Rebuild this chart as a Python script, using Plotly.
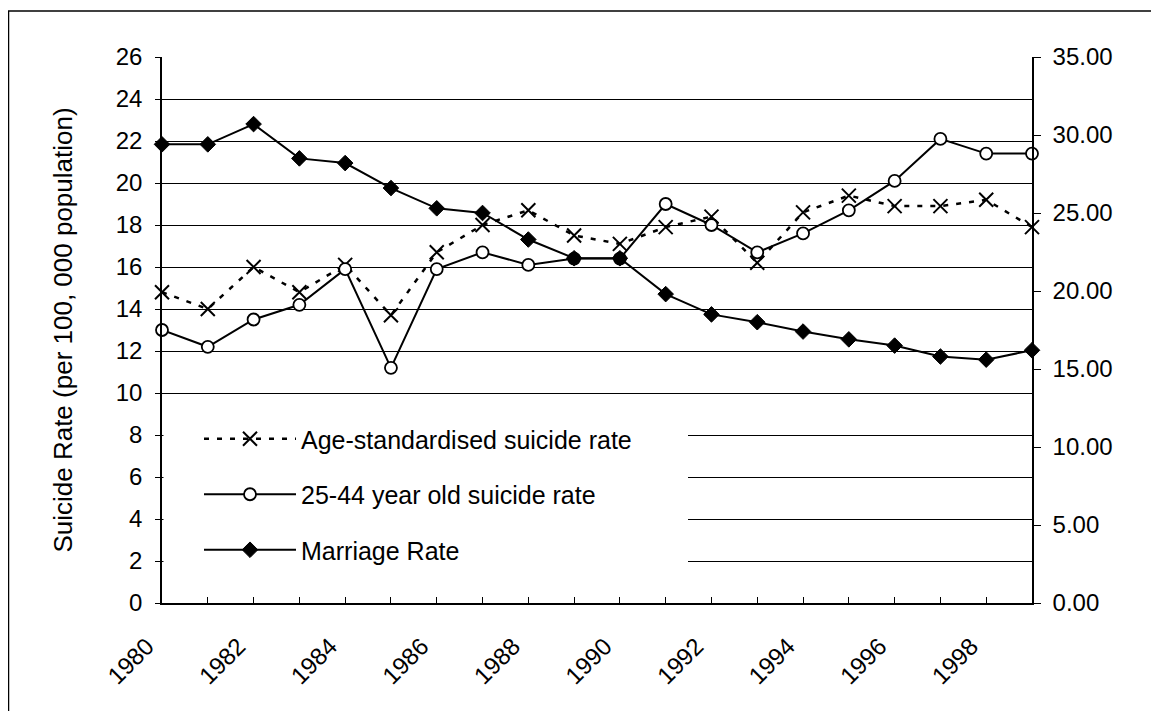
import plotly.graph_objects as go

years = [1980, 1981, 1982, 1983, 1984, 1985, 1986, 1987, 1988, 1989,
         1990, 1991, 1992, 1993, 1994, 1995, 1996, 1997, 1998, 1999]
age_standardised = [14.8, 14.0, 16.0, 14.8, 16.1, 13.7, 16.7, 18.0, 18.7, 17.5,
                    17.1, 17.9, 18.4, 16.2, 18.6, 19.4, 18.9, 18.9, 19.2, 17.9]
age_25_44 = [13.0, 12.2, 13.5, 14.2, 15.9, 11.2, 15.9, 16.7, 16.1, 16.4,
             16.4, 19.0, 18.0, 16.7, 17.6, 18.7, 20.1, 22.1, 21.4, 21.4]
marriage_rate = [29.4, 29.4, 30.7, 28.5, 28.2, 26.6, 25.3, 25.0, 23.3, 22.1,
                 22.1, 19.8, 18.5, 18.0, 17.4, 16.9, 16.5, 15.8, 15.6, 16.2]
x_tick_labels = ["1980", "", "1982", "", "1984", "", "1986", "", "1988", "",
                 "1990", "", "1992", "", "1994", "", "1996", "", "1998", ""]
left_ticks = [0, 2, 4, 6, 8, 10, 12, 14, 16, 18, 20, 22, 24, 26]
right_ticks = [0, 5, 10, 15, 20, 25, 30, 35]

FONT = "Arial, Liberation Sans, sans-serif"
W, H = 1159, 711
OFF = 8  # page body margin
# plot area in page pixels: left 162, right 1032, top 57, bottom 603
ML, MT = 162 - OFF, 57 - OFF
MR, MB = W - (1032 - OFF), H - (603 - OFF)
PW, PH = W - ML - MR, H - MT - MB

def page_x(px):
    return (px - OFF - ML) / PW

def page_y(py):
    return (H - MB - (py - OFF)) / PH

fig = go.Figure()

fig.add_trace(go.Scatter(
    x=years, y=age_standardised, name="Age-standardised suicide rate",
    mode="lines+markers", legendgroup="a", cliponaxis=False,
    line=dict(color="black", width=2.5, dash="5px,8px"),
    marker=dict(symbol="x-thin-open", size=14, color="black",
                line=dict(color="black", width=2)),
))
fig.add_trace(go.Scatter(
    x=years, y=age_25_44, name="25-44 year old suicide rate",
    mode="lines+markers", legendgroup="b", cliponaxis=False,
    line=dict(color="black", width=2),
    marker=dict(symbol="circle", size=12, color="white",
                line=dict(color="black", width=1.8)),
))
fig.add_trace(go.Scatter(
    x=years, y=marriage_rate, name="Marriage Rate", yaxis="y2",
    mode="lines+markers", legendgroup="c", cliponaxis=False,
    line=dict(color="black", width=2),
    marker=dict(symbol="diamond", size=12, color="black",
                line=dict(color="black", width=1)),
))

# white area behind the legend (covers the gridlines there)
fig.add_shape(type="rect", xref="x domain", yref="y",
              x0=1.5 / PW, x1=page_x(688), y0=0.3, y1=9.6,
              fillcolor="white", line=dict(width=0), layer="above")

# outer chart frame (left and top edges visible)
fig.add_shape(type="line", xref="paper", yref="paper",
              x0=page_x(8.5), x1=page_x(8.5),
              y0=page_y(11), y1=page_y(730),
              line=dict(color="black", width=1.5))
fig.add_shape(type="line", xref="paper", yref="paper",
              x0=page_x(8), x1=page_x(1180),
              y0=page_y(11), y1=page_y(11),
              line=dict(color="black", width=1.5))

fig.update_layout(
    width=W, height=H,
    margin=dict(l=ML, r=MR, t=MT, b=MB, autoexpand=False),
    paper_bgcolor="white", plot_bgcolor="white",
    font=dict(family=FONT, color="black", size=24),
    showlegend=True,
    legend=dict(
        x=page_x(199), y=page_y(416), xanchor="left", yanchor="top",
        bgcolor="rgba(0,0,0,0)", borderwidth=0,
        font=dict(family=FONT, size=25, color="black"),
        itemwidth=92, traceorder="grouped", tracegroupgap=20,
    ),
    xaxis=dict(
        range=[1980, 1999], tickmode="array", tickvals=years, ticktext=x_tick_labels,
        tickangle=-45, ticks="inside", ticklen=6, tickcolor="black",
        showline=True, linecolor="black", linewidth=1.5,
        showgrid=False, zeroline=False,
        tickfont=dict(family=FONT, size=24, color="black"),
        ticklabelstandoff=18, ticklabelshift=-15,
    ),
    yaxis=dict(
        range=[0, 26], tickmode="array", tickvals=left_ticks,
        ticks="outside", ticklen=5, tickcolor="black",
        showline=True, linecolor="black", linewidth=1.5,
        showgrid=True, gridcolor="black", gridwidth=1, zeroline=False,
        tickfont=dict(family=FONT, size=24, color="black"),
        ticklabelstandoff=8,
        title=dict(text="Suicide Rate (per 100, 000 population)",
                   font=dict(family=FONT, size=26, color="black"), standoff=36),
    ),
    yaxis2=dict(
        range=[0, 35], tickmode="array", tickvals=right_ticks, tickformat=".2f",
        overlaying="y", side="right",
        ticks="outside", ticklen=7, tickcolor="black",
        showline=True, linecolor="black", linewidth=1.5,
        showgrid=False, zeroline=False,
        tickfont=dict(family=FONT, size=24, color="black"),
        ticklabelstandoff=7,
    ),
)

fig.write_html("out.html")
